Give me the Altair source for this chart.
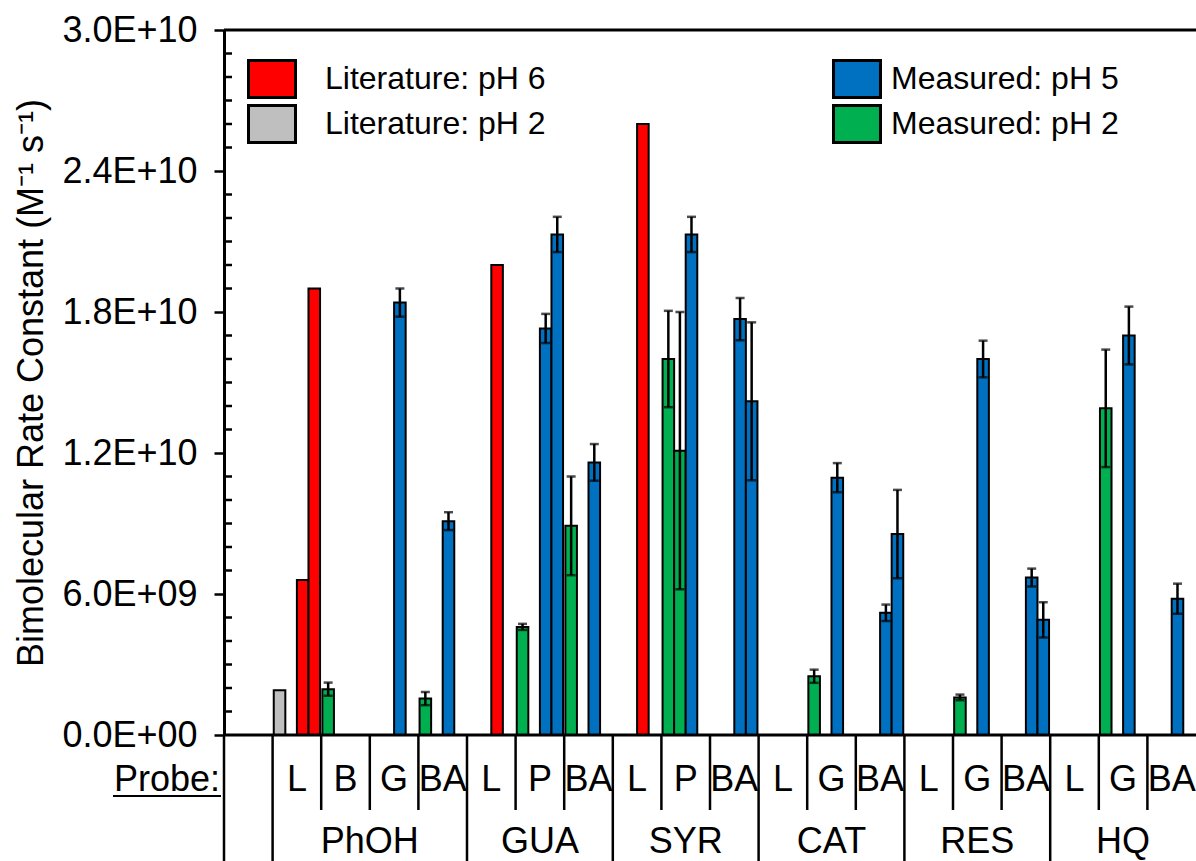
import altair as alt
import pandas as pd

# ---- category axis: compound group and probe for each slot on the x axis ----
compounds = ["", "PhOH", "PhOH", "PhOH", "PhOH", "GUA", "GUA", "GUA",
             "SYR", "SYR", "SYR", "CAT", "CAT", "CAT", "RES", "RES", "RES",
             "HQ", "HQ", "HQ"]
probes = ["", "L", "B", "G", "BA", "L", "P", "BA", "L", "P", "BA",
          "L", "G", "BA", "L", "G", "BA", "L", "G", "BA"]

# ---- series ----
series_names = ["Literature: pH 6", "Literature: pH 2", "Measured: pH 5", "Measured: pH 2"]
series_colors = ["#FF0000", "#BFBFBF", "#0070C0", "#00B050"]

# ---- bars (compound, probe, position within the category, series, value, error) ----
bar_compound = ["PhOH", "PhOH", "PhOH", "PhOH", "PhOH", "PhOH", "PhOH",
                "GUA", "GUA", "GUA", "GUA", "GUA", "GUA",
                "SYR", "SYR", "SYR", "SYR", "SYR", "SYR",
                "CAT", "CAT", "CAT", "CAT",
                "RES", "RES", "RES", "RES",
                "HQ", "HQ", "HQ"]
bar_probe = ["L", "L", "L", "B", "G", "BA", "BA",
             "L", "P", "P", "P", "BA", "BA",
             "L", "P", "P", "P", "BA", "BA",
             "G", "G", "BA", "BA",
             "G", "G", "BA", "BA",
             "G", "G", "BA"]
bar_slot = [0, 2, 3, 0, 2, 0, 2,
            2, 0, 2, 3, 0, 2,
            2, 0, 1, 2, 2, 3,
            0, 2, 2, 3,
            0, 2, 2, 3,
            0, 2, 2]
bar_series = ["Literature: pH 2", "Literature: pH 6", "Literature: pH 6",
              "Measured: pH 2", "Measured: pH 5", "Measured: pH 2", "Measured: pH 5",
              "Literature: pH 6", "Measured: pH 2", "Measured: pH 5", "Measured: pH 5",
              "Measured: pH 2", "Measured: pH 5",
              "Literature: pH 6", "Measured: pH 2", "Measured: pH 2", "Measured: pH 5",
              "Measured: pH 5", "Measured: pH 5",
              "Measured: pH 2", "Measured: pH 5", "Measured: pH 5", "Measured: pH 5",
              "Measured: pH 2", "Measured: pH 5", "Measured: pH 5", "Measured: pH 5",
              "Measured: pH 2", "Measured: pH 5", "Measured: pH 5"]
bar_value = [1.9e9, 6.6e9, 1.9e10, 1.95e9, 1.84e10, 1.55e9, 9.1e9,
             2.0e10, 4.6e9, 1.73e10, 2.13e10, 8.9e9, 1.16e10,
             2.6e10, 1.6e10, 1.21e10, 2.13e10, 1.77e10, 1.42e10,
             2.5e9, 1.095e10, 5.2e9, 8.55e9,
             1.6e9, 1.6e10, 6.7e9, 4.9e9,
             1.39e10, 1.7e10, 5.8e9]
bar_error = [0, 0, 0, 0.28e9, 0.6e9, 0.28e9, 0.38e9,
             0, 0.13e9, 0.62e9, 0.75e9, 2.1e9, 0.78e9,
             0, 2.05e9, 5.9e9, 0.75e9, 0.9e9, 3.36e9,
             0.28e9, 0.62e9, 0.35e9, 1.88e9,
             0.12e9, 0.78e9, 0.38e9, 0.75e9,
             2.5e9, 1.23e9, 0.64e9]

# ---- y axis ----
y_major = [0, 6e9, 1.2e10, 1.8e10, 2.4e10, 3.0e10]
y_minor = [v * 1e9 for v in range(1, 30) if v % 6]
y_top = 3.0e10

FONT = "Liberation Sans"
W, H = 972, 705

keys = [f"{c} {p}" for c, p in zip(compounds, probes)]
cats = pd.DataFrame({"key": keys, "compound": compounds, "probe": probes})
cats["edge"] = ["full" if i == 0 or compounds[i] != compounds[i - 1] else "short"
                for i in range(len(keys))]

# one label per compound group, anchored at the group's middle
groups = []
for name in dict.fromkeys(c for c in compounds if c):
    idx = [i for i, c in enumerate(compounds) if c == name]
    groups.append({"compound": name, "key": keys[idx[0] + len(idx) // 2],
                   "even": len(idx) % 2 == 0})
groups = pd.DataFrame(groups)

bars = pd.DataFrame({"compound": bar_compound, "probe": bar_probe, "slot": bar_slot,
                     "series": bar_series, "value": bar_value, "err": bar_error})
bars["key"] = bars["compound"] + " " + bars["probe"]
bars["lo"] = bars["value"] - bars["err"]
bars["hi"] = bars["value"] + bars["err"]
err_bars = bars[bars["err"] > 0]

x_scale = alt.Scale(domain=keys, paddingInner=0, paddingOuter=0)
x_enc = alt.X("key:N", scale=x_scale, axis=None)
x_edge = alt.X("key:N", scale=x_scale, axis=None, bandPosition=0)
xo_enc = alt.XOffset("slot:O", scale=alt.Scale(domain=[0, 1, 2, 3], paddingInner=0, paddingOuter=0.1))
y_scale = alt.Scale(domain=[0, y_top], nice=False, zero=True)

expo = "floor(log(datum.value) / LN10 + 1e-9)"
label_expr = (f"datum.value == 0 ? '0.0E+00' : format(datum.value / pow(10, {expo}), '.1f')"
              f" + 'E+' + ({expo} < 10 ? '0' : '') + {expo}")

y_axis = alt.Axis(values=y_major, labelExpr=label_expr, labelFont=FONT, labelFontSize=36,
                  labelColor="black", labelPadding=17, labelOverlap=False, labelFlush=False,
                  tickSize=10, tickWidth=2.5, tickColor="black",
                  domainWidth=3, domainColor="black", grid=False,
                  title="Bimolecular Rate Constant (M⁻¹ s⁻¹)", titleFont=FONT,
                  titleFontSize=36, titleFontWeight="normal", titleColor="black",
                  titleAngle=270, titleAlign="center", titleBaseline="alphabetic",
                  titleX=-182, titleY=H / 2)


def y_enc(field):
    return alt.Y(field, scale=y_scale, axis=y_axis)


# legend swatch: a 47 x 37 rectangle
RECT = "M-1.27,-1L1.27,-1L1.27,1L-1.27,1Z"


def legend(x, offset):
    return alt.Legend(orient="none", legendX=x, legendY=29, direction="vertical",
                      title=None, symbolType=RECT, symbolSize=1369,
                      symbolStrokeColor="black", symbolStrokeWidth=3, symbolOpacity=1,
                      labelFont=FONT, labelFontSize=32, labelColor="black",
                      labelOffset=offset, labelLimit=0, rowPadding=-6, padding=0)


def bar_layer(names, x, offset):
    data = bars[bars["series"].isin(names)]
    colors = [series_colors[series_names.index(n)] for n in names]
    return alt.Chart(data).mark_bar(stroke="black", strokeWidth=2).encode(
        x=x_enc, xOffset=xo_enc,
        y=y_enc("value:Q"),
        fill=alt.Fill("series:N", scale=alt.Scale(domain=names, range=colors),
                      legend=legend(x, offset)),
    )


lit = bar_layer(series_names[:2], 28, 33)
meas = bar_layer(series_names[2:], 613, 14)

whiskers = alt.Chart(err_bars).mark_rule(color="black", strokeWidth=2.5).encode(
    x=x_enc, xOffset=xo_enc, y=y_enc("lo:Q"), y2="hi:Q")

caps = alt.Chart(err_bars).transform_fold(["lo", "hi"], as_=["end", "v"]).mark_tick(
    orient="horizontal", size=9, thickness=2.5, color="black").encode(
    x=x_enc, xOffset=xo_enc, y=y_enc("v:Q"))

minor = alt.Chart(pd.DataFrame({"v": y_minor})).mark_rule(
    color="black", strokeWidth=2.5).encode(
    y=y_enc("v:Q"), x=alt.value(0), x2=alt.value(8))

frame = alt.Chart(pd.DataFrame({"v": [0, y_top]})).mark_rule(
    color="black", strokeWidth=3).encode(y=y_enc("v:Q"))

short_edges = alt.Chart(cats[cats["edge"] == "short"]).mark_rule(
    color="black", strokeWidth=2.5).encode(x=x_edge, y=alt.value(H), y2=alt.value(H + 75))
full_edges = alt.Chart(cats[cats["edge"] == "full"]).mark_rule(
    color="black", strokeWidth=2.5).encode(x=x_edge, y=alt.value(H), y2=alt.value(H + 126))

probe_text = alt.Chart(cats[cats["probe"] != ""]).mark_text(
    font=FONT, fontSize=36, color="black", baseline="alphabetic", align="center").encode(
    x=x_enc, y=alt.value(H + 56), text="probe:N")

group_even = alt.Chart(groups[groups["even"]]).mark_text(
    font=FONT, fontSize=36, color="black", baseline="alphabetic", align="center").encode(
    x=x_edge, y=alt.value(H + 118), text="compound:N")
group_odd = alt.Chart(groups[~groups["even"]]).mark_text(
    font=FONT, fontSize=36, color="black", baseline="alphabetic", align="center").encode(
    x=x_enc, y=alt.value(H + 118), text="compound:N")

row_title = pd.DataFrame({"t": ["Probe:"]})
probe_title = alt.Chart(row_title).mark_text(
    font=FONT, fontSize=36, color="black", baseline="alphabetic", align="right").encode(
    x=alt.value(-4), y=alt.value(H + 56), text="t:N")
probe_underline = alt.Chart(row_title).mark_rule(color="black", strokeWidth=2).encode(
    x=alt.value(-111), x2=alt.value(-3), y=alt.value(H + 61))

chart = alt.layer(
    lit, meas, whiskers, caps, minor, frame, short_edges, full_edges,
    probe_text, group_even, group_odd, probe_title, probe_underline,
).resolve_scale(fill="independent").properties(
    width=W, height=H,
    autosize=alt.AutoSizeParams(type="none"),
    padding={"left": 224, "top": 30, "right": 0, "bottom": 126},
    background="white",
).configure_view(strokeWidth=0)

chart.save("out.html", embed_options={"renderer": "svg", "actions": False})
